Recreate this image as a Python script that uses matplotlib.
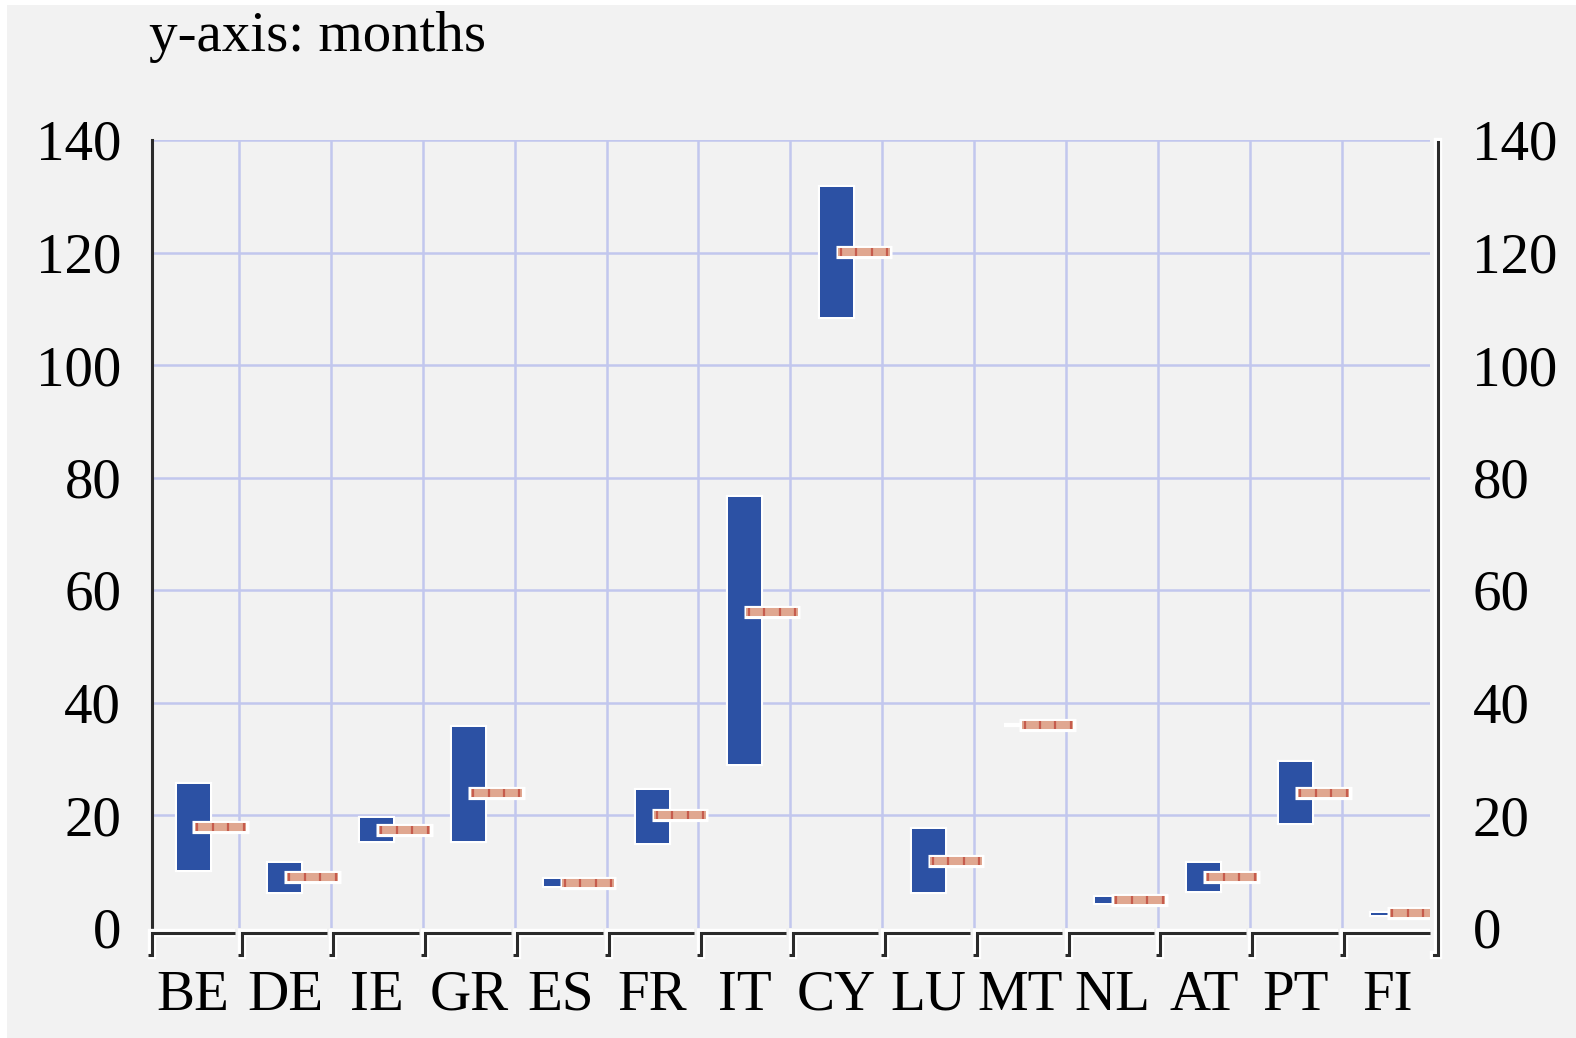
import matplotlib
matplotlib.use('Agg')
import matplotlib.pyplot as plt
import matplotlib.patheffects as pe
from matplotlib.transforms import blended_transform_factory
from matplotlib.patches import Rectangle

# ---------------- data ----------------
countries = ['BE', 'DE', 'IE', 'GR', 'ES', 'FR', 'IT', 'CY', 'LU', 'MT', 'NL', 'AT', 'PT', 'FI']
range_low = [10.3, 6.4, 15.4, 15.3, 7.4, 15.1, 29.1, 108.6, 6.4, 36.0, 4.3, 6.5, 18.5, 2.25]
range_high = [25.6, 11.5, 19.4, 35.7, 8.6, 24.4, 76.6, 131.7, 17.5, 36.0, 5.5, 11.5, 29.5, 2.65]
point_value = [17.8, 8.9, 17.3, 23.9, 8.0, 20.0, 56.1, 120.1, 11.9, 36.0, 4.9, 8.9, 23.9, 2.5]
y_ticks = [0, 20, 40, 60, 80, 100, 120, 140]
y_label = 'y-axis: months'

# ---------------- style ----------------
FONT = 'Liberation Serif'
FS = 41
BG = '#f2f2f2'
BLUE = '#2c51a4'
SALMON = '#e0a790'
DARKRED = '#b8352a'
GRID = '#c2c7ee'
AXC = '#2b2b2b'

W, H = 1576, 1038
fig = plt.figure(figsize=(W / 100, H / 100), dpi=100)
fig.patch.set_facecolor('white')
fig.patches.append(Rectangle((7 / W, 0), 1 - 7 / W, 1 - 5 / H, transform=fig.transFigure,
                             facecolor=BG, edgecolor='none', zorder=-10))

ax_l, ax_r = 151.7, 1430.0
ax_top, ax_bot = 140.0, 927.5
ax = fig.add_axes([ax_l / W, 1 - ax_bot / H, (ax_r - ax_l) / W, (ax_bot - ax_top) / H])
ax.patch.set_visible(False)

n = len(countries)
xmin, xmax = -0.45, 13.46
ax.set_xlim(xmin, xmax)
ax.set_ylim(0, 140)
dx = (xmax - xmin) / (ax_r - ax_l)      # data units per pixel (x)
dy = 1.0 / (ax_bot - ax_top)            # axes fraction per pixel (y)

# grid
for v in y_ticks[1:]:
    ax.axhline(v, color=GRID, lw=1.8, zorder=1)
for k in range(n - 1):
    ax.axvline(k + 0.5, color=GRID, lw=1.8, zorder=1)

# bars (range)
xs = list(range(n))
heights = [h - l for h, l in zip(range_high, range_low)]
bars = ax.bar(xs, heights, bottom=range_low, width=0.36, color=BLUE, edgecolor=BLUE,
              linewidth=0, zorder=3)
for b in bars:
    b.set_path_effects([pe.Stroke(linewidth=3, foreground='white'), pe.Normal()])

# point markers
for i, v in enumerate(point_value):
    s0, s1 = i + 0.02, i + 0.58
    ax.plot([s0 - 2.5 * dx, s1 + 2.5 * dx], [v, v], color='white', lw=9.5,
            solid_capstyle='butt', zorder=4)
    ax.plot([s0, s1], [v, v], color=SALMON, lw=5.8, solid_capstyle='butt', zorder=5)
    for f in [0.05, 0.35, 0.65, 0.95]:
        xx = s0 + f * (s1 - s0)
        ax.plot([xx], [v], marker='|', ms=5.8, mew=1.6, color=DARKRED, alpha=0.65,
                linestyle='none', zorder=6)

# spines
for s in ['top', 'bottom', 'right']:
    ax.spines[s].set_visible(False)
ax.spines['left'].set_color(AXC)
ax.spines['left'].set_linewidth(2.2)
ax.spines['left'].set_zorder(2.5)

# y tick labels left
ax.set_yticks(y_ticks)
ax.set_yticklabels([str(t) for t in y_ticks], fontsize=FS, family=FONT)
ax.tick_params(axis='y', length=0, pad=22.0)
ax.set_xticks([])

# right labels
ax2 = ax.twinx()
ax2.set_ylim(0, 140)
ax2.set_yticks(y_ticks)
ax2.set_yticklabels([str(t) for t in y_ticks], fontsize=FS, family=FONT)
ax2.tick_params(axis='y', length=0, pad=30.6)
for s in ax2.spines.values():
    s.set_visible(False)
ax2.patch.set_visible(False)

# bracket-style x axis
trans = blended_transform_factory(ax.transData, ax.transAxes)
y_line = -(933 - ax_bot) * dy
y_tick = -(955 - ax_bot) * dy
stroke = [pe.Stroke(linewidth=6, foreground='white'), pe.Normal()]
for i in range(n):
    left = xmin if i == 0 else i - 0.5 + 2.5 * dx
    right = xmax if i == n - 1 else i + 0.5 - 4 * dx
    ax.plot([left - 4 * dx, left, left, right], [y_tick, y_tick, y_line, y_line],
            transform=trans, clip_on=False, color=AXC, lw=2.2,
            solid_joinstyle='miter', solid_capstyle='butt', path_effects=stroke, zorder=8)
# right axis line
xr = xmax + 8 * dx
ax.plot([xr - 4 * dx, xr, xr], [y_tick, y_tick, 1.0 - 1.7 * dy], transform=trans,
        clip_on=False, color=AXC, lw=2.2, solid_joinstyle='miter',
        path_effects=stroke, zorder=8)

# x category labels
y_lab = -(1010 - ax_bot) * dy
for i, c in enumerate(countries):
    ax.text(i, y_lab, c, transform=trans, ha='center', va='baseline',
            fontsize=FS, family=FONT, color='black')

# axis caption
fig.text(149 / W, 1 - 51 / H, y_label, fontsize=FS, family=FONT, va='baseline', ha='left')

fig.savefig('out.png', dpi=100, facecolor=fig.get_facecolor())
